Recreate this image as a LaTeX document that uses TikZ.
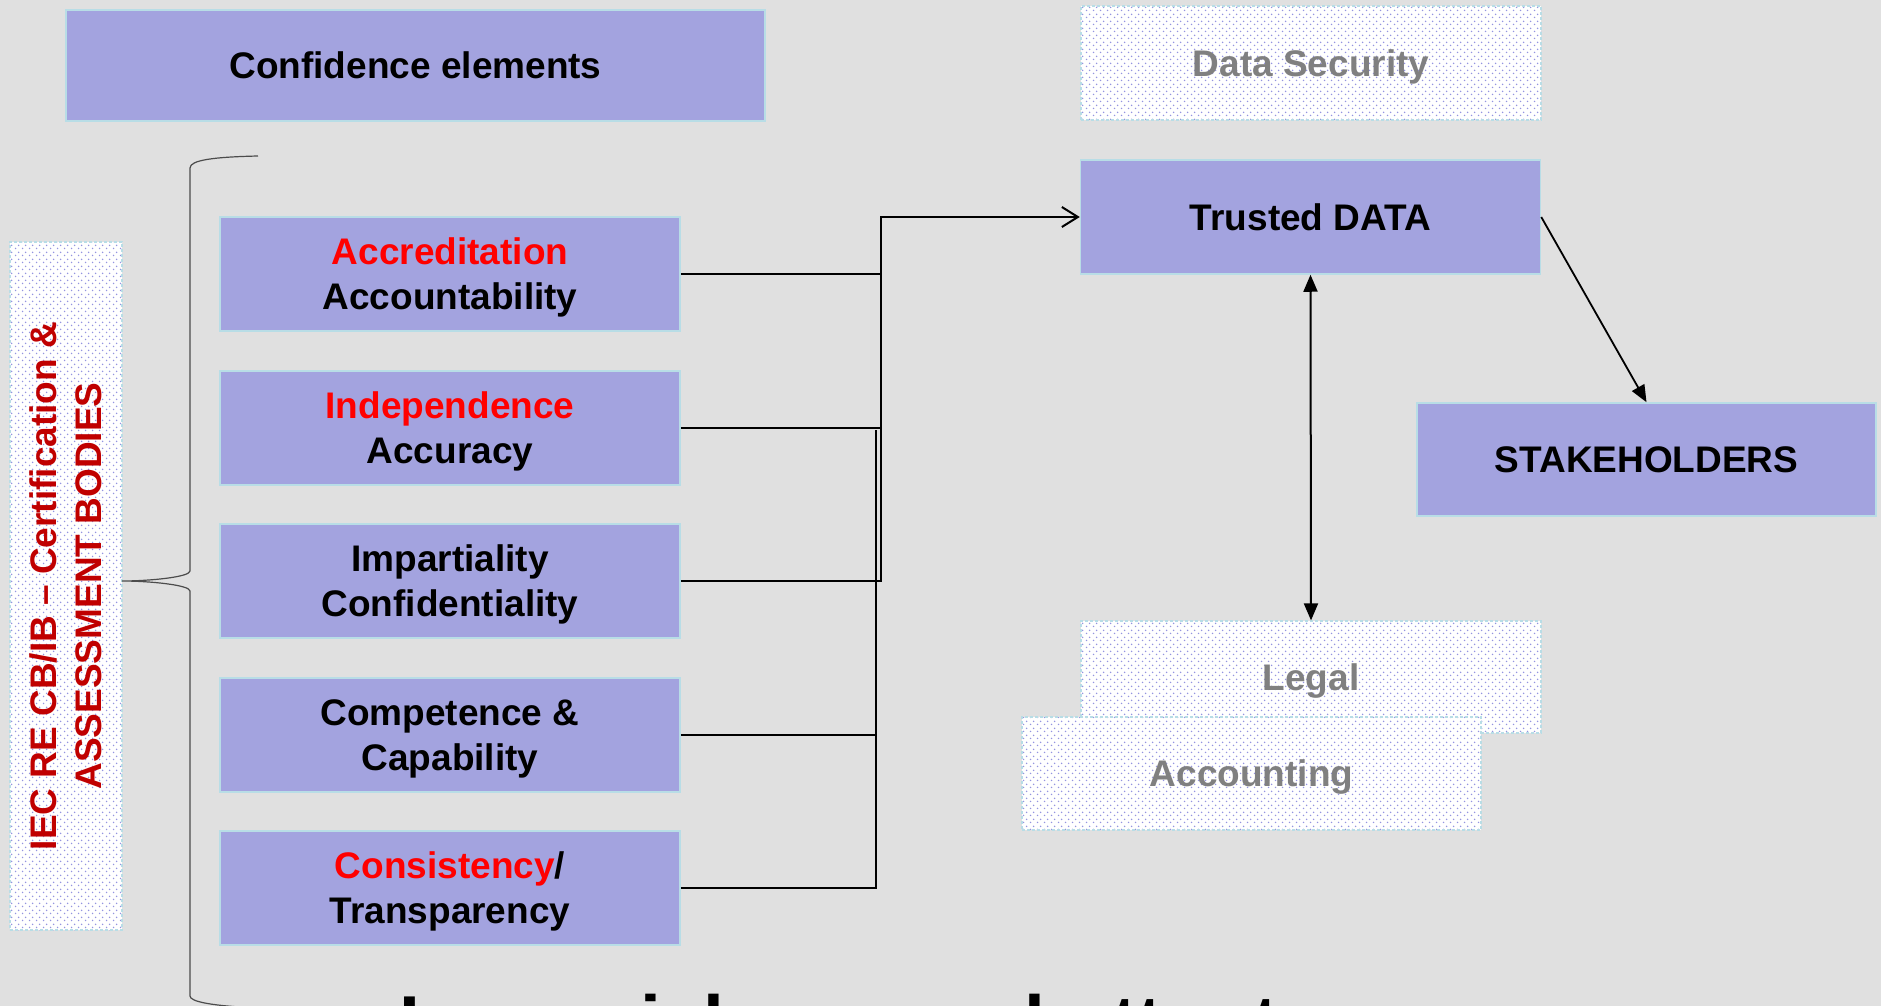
\documentclass[tikz,border=0pt]{standalone}
\usepackage{fontspec}
\setmainfont{Liberation Sans}
\usetikzlibrary{arrows.meta,patterns.meta}
\definecolor{bggray}{HTML}{E0E0E0}
\definecolor{boxfill}{HTML}{A3A3DF}
\definecolor{boxline}{HTML}{B8DDE6}
\definecolor{dotblue}{HTML}{9494E0}
\definecolor{darkred}{HTML}{C00000}
\definecolor{textgray}{HTML}{808080}
\tikzdeclarepattern{
  name=pdots,
  type=uncolored,
  bottom left={(0pt,0pt)},
  top right={(7pt,7pt)},
  tile size={(7pt,7pt)},
  code={
    \pgfpathcircle{\pgfpoint{1.75pt}{1.75pt}}{0.9pt}
    \pgfpathcircle{\pgfpoint{5.25pt}{5.25pt}}{0.9pt}
    \pgfusepath{fill}
  }
}
\tikzset{
  boxtext/.style = {align=center, inner sep=0pt, font=\fontsize{37}{45}\bfseries\selectfont},
  elem_box/.style = {boxtext, text depth=0pt, fill=boxfill, draw=boxline, line width=1.5pt, minimum width=460pt, minimum height=114pt},
  dot_box/.style = {boxtext, text depth=0pt, text=textgray, preaction={fill=white}, pattern=pdots, pattern color=dotblue,
    draw=boxline, dash pattern=on 3pt off 2pt, line width=1.2pt, minimum width=460pt, minimum height=114pt},
  link/.style = {line width=2pt},
  open_arr/.style = {link, -{Straight Barb[length=16pt,width=20pt,line width=2pt]}},
  fill_arr/.style = {line width=1.8pt, -{Triangle[length=17pt,width=14pt]}},
  both_arr/.style = {line width=2pt, {Triangle[length=17pt,width=14pt]}-{Triangle[length=17pt,width=14pt]}},
  brace_line/.style = {line width=1.2pt, draw=black!70}
}
\begin{document}
\begin{tikzpicture}[x=1pt,y=-1pt]
  \fill[bggray] (0,0) rectangle (1881,1006);
  \useasboundingbox (0,0) rectangle (1881,1006);

  \node [elem_box, minimum width=699pt, minimum height=111pt] (conf) at (415.5,65.5) {Confidence elements};

  \node [dot_box, minimum width=112pt, minimum height=688pt] (iec) at (66,586) {};
  \node [boxtext, text=darkred, rotate=90] (iec_text) at (iec.center) {IEC RE CB/IB – Certification \&\\ASSESSMENT BODIES};

  \coordinate (brace_top) at (258,156);
  \coordinate (brace_tip) at (122,581);
  \coordinate (brace_bot) at (258,1008);
  \draw [brace_line] (brace_top) .. controls (214,157) and (190,160) .. (190,168) -- (190,571)
    .. controls (190,577) and (150,581) .. (brace_tip)
    .. controls (150,581) and (190,585) .. (190,591) -- (190,996)
    .. controls (190,1002) and (214,1006) .. (brace_bot);

  \node [elem_box] (acc)  at (450,274) {\color{red}Accreditation\\Accountability};
  \node [elem_box] (ind)  at (450,428) {\color{red}Independence\\Accuracy};
  \node [elem_box] (imp)  at (450,581) {Impartiality\\Confidentiality};
  \node [elem_box] (comp) at (450,735) {Competence \&\\Capability};
  \node [elem_box] (cons) at (450,888) {{\color{red}Consistency}/\\Transparency};

  \node [dot_box] (sec)   at (1311,63) {Data Security};
  \node [elem_box] (trust) at (1310.5,217) {Trusted DATA};
  \node [elem_box, minimum width=459pt, minimum height=113pt] (stake) at (1646.5,459.5) {STAKEHOLDERS};
  \node [dot_box, minimum height=112pt] (legal) at (1311,677) {Legal};
  \node [dot_box, minimum width=459pt, minimum height=113pt] (account) at (1251.5,773.5) {Accounting};

  \coordinate (join_a) at (881,217);
  \coordinate (join_b) at (876,430);
  \draw [link] (acc.east) -| (join_a);
  \draw [link] (ind.east) -- (ind.east -| join_a);
  \draw [open_arr] (imp.east) -| (join_a) -- (trust.west);
  \draw [link] (comp.east) -- (comp.east -| join_b);
  \draw [link] (cons.east) -| (join_b);

  \draw [fill_arr] (trust.east) -- (stake.north);
  \draw [both_arr] (trust.south) -- (legal.north);

  \node [anchor=base west, inner sep=0pt, font=\fontsize{75}{90}\bfseries\selectfont] (bottom_text) at (399,1048) {Is crucial as ever better to use};
\end{tikzpicture}
\end{document}
